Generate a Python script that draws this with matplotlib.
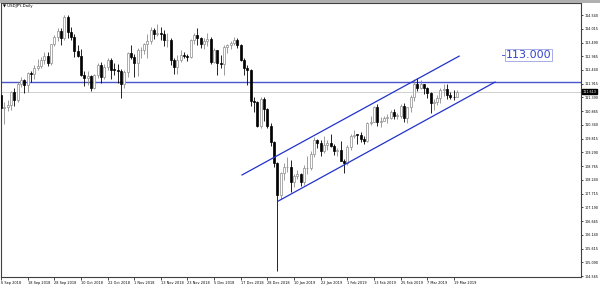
import numpy as np
import matplotlib.pyplot as plt
from matplotlib.patches import Rectangle

# USDJPY daily bars, 6 Sep 2018 .. 20 Mar 2019 (bar index = trading day)
opens = [111.50, 110.97, 111.02, 111.10, 111.60, 111.28, 111.92, 112.05, 111.85, 112.33,
         112.28, 112.50, 112.59, 112.82, 112.98, 112.72, 113.44, 113.70, 113.93, 113.65,
         114.47, 113.90, 113.71, 113.16, 112.98, 112.26, 112.15, 112.20, 111.77, 112.23,
         112.63, 112.18, 112.55, 112.81, 112.45, 112.44, 112.41, 111.90, 112.37, 113.10,
         112.93, 112.70, 113.20, 113.20, 113.44, 113.54, 113.98, 113.81, 113.87, 113.82,
         113.58, 113.59, 112.82, 112.55, 112.83, 113.00, 112.97, 112.95, 113.57, 113.79,
         113.66, 113.45, 113.56, 113.63, 112.75, 113.20, 112.70, 112.68, 113.32, 113.38,
         113.47, 113.60, 113.39, 112.84, 112.53, 112.45, 111.25, 111.22, 110.31, 111.35,
         110.95, 110.30, 109.69, 108.88, 107.68, 108.50, 108.72, 108.74, 108.16, 108.40,
         108.48, 108.16, 108.68, 108.68, 109.24, 109.77, 109.66, 109.36, 109.59, 109.64,
         109.54, 109.35, 109.38, 108.96, 108.88, 109.50, 109.91, 109.97, 109.96, 109.80,
         109.73, 110.40, 110.47, 111.03, 110.47, 110.48, 110.62, 110.62, 110.85, 110.69,
         110.69, 111.05, 110.60, 111.04, 111.39, 111.91, 111.74, 111.90, 111.75, 111.58,
         111.17, 111.21, 111.36, 111.69, 111.70, 111.48, 111.42, 111.39]
highs = [111.60, 111.20, 111.28, 111.63, 111.76, 112.00, 112.16, 112.10, 112.38, 112.40,
         112.62, 112.87, 112.92, 113.14, 113.14, 113.45, 113.77, 114.05, 114.03, 114.55,
         114.55, 114.10, 113.80, 113.40, 113.25, 112.40, 112.40, 112.25, 112.30, 112.71,
         112.75, 112.66, 112.88, 112.91, 112.71, 112.67, 112.46, 112.45, 113.12, 113.38,
         113.05, 113.27, 113.31, 113.47, 113.80, 114.08, 114.05, 114.21, 114.07, 113.95,
         113.84, 113.65, 112.88, 113.00, 113.20, 113.14, 113.05, 113.64, 113.85, 114.04,
         113.70, 113.65, 113.84, 113.70, 113.28, 113.22, 113.02, 113.40, 113.44, 113.56,
         113.70, 113.68, 113.45, 112.90, 112.63, 112.48, 111.40, 111.26, 111.42, 111.41,
         110.99, 110.43, 109.72, 108.94, 108.54, 108.88, 109.10, 108.99, 108.46, 108.60,
         108.52, 108.81, 109.14, 109.34, 109.88, 109.80, 109.75, 109.91, 109.75, 109.99,
         109.62, 109.46, 109.72, 109.03, 109.58, 110.01, 110.16, 110.00, 110.06, 109.90,
         110.45, 110.70, 111.08, 111.13, 110.65, 110.68, 110.75, 110.92, 110.95, 110.80,
         111.13, 111.17, 111.04, 111.47, 112.08, 112.13, 112.05, 111.91, 111.80, 111.60,
         111.32, 111.48, 111.75, 111.90, 111.90, 111.59, 111.69, 111.69]
lows = [110.85, 110.38, 110.86, 110.90, 111.06, 111.20, 111.80, 111.55, 111.60, 112.00,
        112.08, 112.44, 112.53, 112.67, 112.58, 112.64, 113.37, 113.55, 113.40, 113.60,
        113.66, 113.57, 112.92, 112.92, 112.20, 111.84, 111.88, 111.63, 111.70, 112.12,
        111.96, 112.10, 112.44, 112.11, 112.23, 111.95, 111.38, 111.77, 112.17, 112.86,
        112.17, 112.20, 112.90, 113.05, 112.90, 113.45, 113.63, 113.73, 113.60, 113.35,
        113.32, 112.62, 112.30, 112.29, 112.73, 112.88, 112.77, 112.91, 113.42, 113.40,
        113.27, 113.25, 113.37, 112.67, 112.72, 112.23, 112.51, 112.24, 113.10, 113.26,
        113.38, 113.27, 112.80, 112.23, 111.86, 111.07, 110.82, 110.25, 110.24, 110.48,
        110.22, 109.55, 108.73, 104.75, 107.51, 108.23, 108.56, 107.76, 107.98, 108.26,
        107.99, 108.06, 108.48, 108.63, 109.11, 109.45, 109.15, 109.27, 109.37, 109.51,
        109.18, 109.16, 108.95, 108.50, 108.80, 109.40, 109.83, 109.60, 109.67, 109.63,
        109.67, 110.34, 110.45, 110.30, 110.25, 110.50, 110.42, 110.57, 110.55, 110.55,
        110.62, 110.45, 110.43, 110.84, 111.25, 111.62, 111.70, 111.53, 111.36, 110.79,
        110.93, 111.12, 111.18, 111.45, 111.32, 111.32, 111.28, 111.39]
closes = [110.97, 111.02, 111.10, 111.60, 111.28, 111.92, 112.05, 111.85, 112.33, 112.28,
          112.50, 112.59, 112.82, 112.98, 112.72, 113.44, 113.70, 113.93, 113.65, 114.47,
          113.90, 113.71, 113.16, 112.98, 112.26, 112.15, 112.20, 111.77, 112.23, 112.63,
          112.18, 112.55, 112.81, 112.45, 112.44, 112.41, 111.90, 112.37, 113.10, 112.93,
          112.70, 113.20, 113.20, 113.44, 113.54, 113.98, 113.81, 113.87, 113.82, 113.58,
          113.59, 112.82, 112.55, 112.83, 113.00, 112.97, 112.95, 113.57, 113.79, 113.66,
          113.45, 113.56, 113.63, 112.75, 113.20, 112.70, 112.68, 113.32, 113.38, 113.47,
          113.60, 113.39, 112.84, 112.53, 112.45, 111.25, 111.22, 110.31, 111.35, 110.95,
          110.30, 109.69, 108.88, 107.68, 108.50, 108.72, 108.74, 108.16, 108.40, 108.48,
          108.16, 108.68, 108.68, 109.24, 109.77, 109.66, 109.36, 109.59, 109.64, 109.54,
          109.35, 109.38, 108.96, 108.88, 109.50, 109.91, 109.97, 109.96, 109.80, 109.73,
          110.40, 110.47, 111.03, 110.47, 110.48, 110.62, 110.62, 110.85, 110.69, 110.69,
          111.05, 110.60, 111.04, 111.39, 111.91, 111.74, 111.90, 111.75, 111.58, 111.17,
          111.21, 111.36, 111.69, 111.70, 111.48, 111.42, 111.39, 111.61]

date_labels = ["6 Sep 2018", "18 Sep 2018", "28 Sep 2018", "10 Oct 2018", "22 Oct 2018",
               "1 Nov 2018", "13 Nov 2018", "23 Nov 2018", "5 Dec 2018", "17 Dec 2018",
               "28 Dec 2018", "10 Jan 2019", "22 Jan 2019", "1 Feb 2019", "13 Feb 2019",
               "25 Feb 2019", "7 Mar 2019", "19 Mar 2019"]
price_labels = ["114.540", "114.015", "113.490", "112.965", "112.440", "111.915", "111.390",
                "110.865", "110.340", "109.815", "109.290", "108.765", "108.240", "107.715",
                "107.190", "106.665", "106.140", "105.615", "105.090", "104.565"]

# drawn objects
level = 112.0
bid = 111.61
target_label = "113.000"
upper_channel = [(72.4, 108.43), (137.6, 112.97)]
lower_channel = [(83.25, 107.43), (148.4, 111.98)]

fig = plt.figure(figsize=(6, 2.86), dpi=100)
ax = fig.add_axes([0.5 / 600, 9 / 286, 580.5 / 600, 274 / 286])
ax.set_xlim(-0.15, 174.2)
ax.set_ylim(104.53, 115.0)

o = np.array(opens)
h = np.array(highs)
l = np.array(lows)
c = np.array(closes)
x = np.arange(len(c))
up = c >= o

ax.vlines(x[up], l[up], h[up], color="#8c8c8c", lw=0.6, zorder=2)
ax.vlines(x[~up], l[~up], h[~up], color="#000000", lw=0.6, zorder=2)
body = np.maximum(np.abs(c - o), 0.02)
ax.bar(x[up], body[up], bottom=o[up], width=0.6, color="white",
       edgecolor="#8c8c8c", lw=0.5, zorder=3)
ax.bar(x[~up], body[~up], bottom=c[~up], width=0.6, color="black",
       edgecolor="black", lw=0.5, zorder=3)

ax.axhline(level, color="#4a55c8", lw=1.0, zorder=1)
ax.axhline(bid, color="#c8c8c8", lw=0.6, zorder=1)

for pts in (upper_channel, lower_channel):
    xs, ys = zip(*pts)
    ax.plot(xs, ys, color="#2233cc", lw=0.9, zorder=4)

ax.plot([150.5, 151.4], [113.0, 113.0], color="#3344cc", lw=0.6)
ax.text(151.6, 113.0, target_label, color="#3344cc", fontsize=8, va="center", ha="left",
        bbox=dict(boxstyle="square,pad=0.1", fc="white", ec="#9aa0e0", lw=0.6))

# axes look
ax.yaxis.tick_right()
ax.set_yticks([float(s) for s in price_labels])
ax.set_yticklabels(price_labels)
ax.set_xticks(np.arange(len(date_labels)) * 8)
ax.set_xticklabels(date_labels)
for lab in ax.get_xticklabels():
    lab.set_ha("left")
ax.tick_params(axis="y", length=1.5, width=0.5, labelsize=2.4, pad=0.8)
ax.tick_params(axis="x", length=2, width=0.5, labelsize=2.5, pad=1.0)
for s in ax.spines.values():
    s.set_linewidth(0.8)
    s.set_color("#404040")

ax.text(1.002, bid, "111.613", transform=ax.get_yaxis_transform(), fontsize=2.4,
        color="white", va="center", ha="left",
        bbox=dict(boxstyle="square,pad=0.15", fc="black", ec="black"))

fig.text(3 / 600, 1 - 6 / 286, "\u25bc USDJPY,Daily", fontsize=2.8, va="center")
fig.patches.append(Rectangle((0, 1 - 2.5 / 286), 1, 2.5 / 286, transform=fig.transFigure,
                             fc="#b0b0b0", ec="none"))

fig.savefig("out.png", dpi=100)
